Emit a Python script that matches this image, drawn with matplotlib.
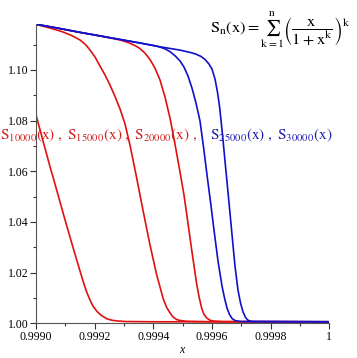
import matplotlib
matplotlib.use("Agg")
import matplotlib.pyplot as plt
from matplotlib.ticker import MultipleLocator, FixedLocator

plt.rcParams['mathtext.fontset'] = 'stix'
plt.rcParams['font.family'] = 'Liberation Serif'

# curves
x_10000 = [0.999000, 0.999048, 0.999061, 0.999099, 0.999127, 0.999161, 0.9991722,
           0.999184, 0.9991943, 0.999207, 0.9992216, 0.9992411, 0.9992591, 0.9992796,
           0.9993069, 0.999400, 1.0]
y_10000 = [1.0822, 1.0617, 1.0565, 1.0408, 1.0296, 1.0164, 1.0125,
           1.0092, 1.0068, 1.0048, 1.0032, 1.0018, 1.0012, 1.0009,
           1.0007, 1.0006, 1.0006]

x_15000 = [0.999000, 0.9990477, 0.9990886, 0.9991227, 0.9991500, 0.9991705, 0.9991841,
           0.9992012, 0.9992182, 0.9992353, 0.9992523, 0.9992694, 0.9992864, 0.9993034,
           0.9993205, 0.9993433, 0.9993658, 0.9993887, 0.9994115, 0.9994340, 0.9994449,
           0.9994569, 0.9994671, 0.9994797, 0.9994910, 0.9995138, 0.9996, 1.0]
y_15000 = [1.1180, 1.1165, 1.1151, 1.1135, 1.1118, 1.1098, 1.1078,
           1.1051, 1.1015, 1.0980, 1.0940, 1.0895, 1.0846, 1.0787,
           1.0703, 1.0573, 1.0440, 1.0309, 1.0191, 1.0096, 1.0064,
           1.0041, 1.0025, 1.0015, 1.0011, 1.0008, 1.0006, 1.0006]

x_20000 = [0.999000, 0.9990818, 0.9991500, 0.9992182, 0.9992523, 0.9992864, 0.9993137,
           0.9993375, 0.9993546, 0.9993716, 0.9993887, 0.9994057, 0.9994228, 0.9994398,
           0.9994569, 0.9994739, 0.9994910, 0.9995046, 0.9995148, 0.9995309, 0.9995479,
           0.9995564, 0.9995650, 0.9995728, 0.9995820, 0.9995933, 0.9996045, 0.9996342,
           1.0]
y_20000 = [1.1180, 1.1163, 1.1148, 1.1134, 1.1126, 1.1118, 1.1108,
           1.1096, 1.1084, 1.1066, 1.1041, 1.1007, 1.0960, 1.0893,
           1.0810, 1.0707, 1.0597, 1.0506, 1.0423, 1.0289, 1.0155,
           1.0102, 1.0059, 1.0035, 1.0021, 1.0012, 1.0009, 1.0007,
           1.0006]

x_25000 = [0.999000, 0.9990818, 0.9991500, 0.9992182, 0.9992864, 0.9993546, 0.9994057,
           0.9994228, 0.9994398, 0.9994569, 0.9994739, 0.9994910, 0.9995046, 0.9995182,
           0.9995319, 0.9995455, 0.9995592, 0.9995711, 0.9995840, 0.9995950, 0.9996069,
           0.9996205, 0.9996342, 0.9996427, 0.9996512, 0.9996597, 0.9996683, 0.9996785,
           0.9996955, 1.0]
y_25000 = [1.1180, 1.1163, 1.1148, 1.1134, 1.1120, 1.1106, 1.1095,
           1.1090, 1.1083, 1.1072, 1.1056, 1.1035, 1.1011, 1.0976,
           1.0928, 1.0869, 1.0798, 1.0696, 1.0577, 1.0479, 1.0368,
           1.0246, 1.0147, 1.0100, 1.0060, 1.0035, 1.0019, 1.0011,
           1.0007, 1.0006]

x_30000 = [0.999000, 0.9990818, 0.9991500, 0.9992182, 0.9992864, 0.9993546, 0.9994228,
           0.9994910, 0.9995251, 0.9995455, 0.9995626, 0.9995762, 0.9995898, 0.9996001,
           0.9996103, 0.9996188, 0.9996256, 0.9996308, 0.9996376, 0.9996444, 0.9996529,
           0.9996614, 0.9996700, 0.9996785, 0.9996887, 0.9996973, 0.9997058, 0.9997143,
           0.9997228, 0.9997365, 1.0]
y_30000 = [1.1180, 1.1163, 1.1148, 1.1134, 1.1120, 1.1106, 1.1091,
           1.1078, 1.1069, 1.1062, 1.1053, 1.1041, 1.1023, 1.1003,
           1.0964, 1.0912, 1.0857, 1.0802, 1.0723, 1.0640, 1.0538,
           1.0435, 1.0329, 1.0226, 1.0131, 1.0080, 1.0045, 1.0023,
           1.0012, 1.0007, 1.0006]

x_ticks = [0.9990, 0.9992, 0.9994, 0.9996, 0.9998, 1.0]
x_tick_labels = ['0.9990', '0.9992', '0.9994', '0.9996', '0.9998', '1']
y_ticks = [1.00, 1.02, 1.04, 1.06, 1.08, 1.10]
y_tick_labels = ['1.00', '1.02', '1.04', '1.06', '1.08', '1.10']

red = '#e01010'
blue = '#1010cc'

W, H = 357, 358
fig = plt.figure(figsize=(W / 100, H / 100), dpi=100)
ax = fig.add_axes([36 / W, (H - 323.3) / H, (329.3 - 36) / W, (323.3 - 24) / H])

for xs, ys, c in [(x_10000, y_10000, red), (x_15000, y_15000, red),
                  (x_20000, y_20000, red), (x_25000, y_25000, blue),
                  (x_30000, y_30000, blue)]:
    ax.plot(xs, ys, color=c, lw=1.2, solid_joinstyle='round')

ax.set_xlim(0.999, 1.0)
ax.set_ylim(1.0, 1.1181)
for s in ['top', 'right']:
    ax.spines[s].set_visible(False)
for s in ['left', 'bottom']:
    ax.spines[s].set_linewidth(0.8)
    ax.spines[s].set_color('#555555')

ax.xaxis.set_major_locator(FixedLocator(x_ticks))
ax.set_xticklabels(x_tick_labels)
ax.xaxis.set_minor_locator(MultipleLocator(0.0001))
ax.yaxis.set_major_locator(FixedLocator(y_ticks))
ax.set_yticklabels(y_tick_labels)
ax.yaxis.set_minor_locator(MultipleLocator(0.01))
ax.tick_params(which='major', length=4, width=0.8, color='#333333',
               labelsize=8.5, pad=1.5)
ax.tick_params(which='minor', length=2.5, width=0.8, color='#333333')

fig.text(182 / W, 1 - 350 / H, 'x', style='italic', fontsize=8.5,
         ha='center', va='center')

fig.text(210 / W, 1 - 30 / H,
         r'$\mathrm{S_n(x)} = \sum_{\mathrm{k=1}}^{\mathrm{n}}'
         r'\left(\dfrac{\mathrm{x}}{1+\mathrm{x^k}}\right)^{\mathrm{k}}$',
         fontsize=11.8, ha='left', va='center')

fig.text(0, 1 - 135 / H,
         r'$\mathrm{S_{10000}(x)\ ,\ S_{15000}(x)\ ,\ S_{20000}(x)\ ,}$',
         color='#d42020', fontsize=11, ha='left', va='center')
fig.text(210 / W, 1 - 135 / H,
         r'$\mathrm{S_{25000}(x)\ ,\ S_{30000}(x)}$',
         color='#2020b0', fontsize=11, ha='left', va='center')

fig.savefig('out.png', dpi=100)
